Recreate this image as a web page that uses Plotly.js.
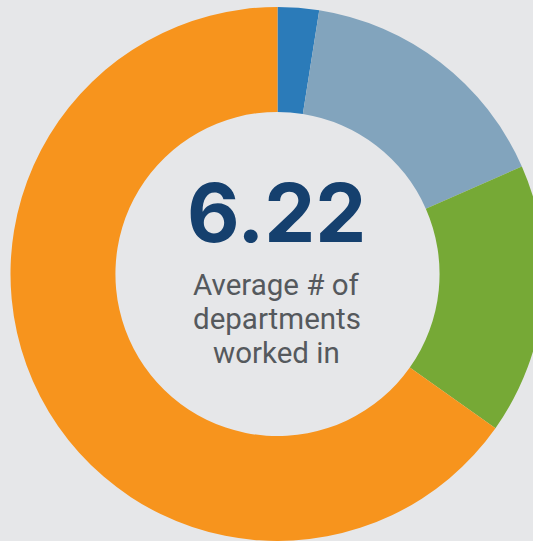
<!DOCTYPE html>
<html>
<head>
<meta charset="utf-8">
<script src="https://cdn.plot.ly/plotly-3.0.1.min.js"></script>
<style>
html,body{margin:0;padding:0;background:#e6e7e9;overflow:hidden;width:533px;height:541px;}
#chart{width:560px;height:541px;}
</style>
</head>
<body>
<div id="chart"></div>
<script>
const categories = ["Category A", "Category B", "Category C", "Category D"];
const shares = [2.5, 15.9, 16.4, 65.2];
const colors = ["#2b7bb9", "#82a4bd", "#76a936", "#f7941d"];
const centerValue = "6.22";
const centerLines = ["Average # of", "departments", "worked in"];

const W = 560, H = 541;
const cx = 277.5, topY = 7, R = 267;
function px(x){ return x / W; }
function py(y){ return 1 - y / H; }

const data = [{
  type: "pie",
  labels: categories,
  values: shares,
  marker: {colors: colors, line: {width: 0}},
  hole: 0.607,
  sort: false,
  direction: "clockwise",
  rotation: 0,
  textinfo: "none",
  hoverinfo: "label+percent",
  showlegend: false,
  domain: {x: [px(cx - R), px(cx + R)], y: [py(topY + 2 * R), py(topY)]}
}];

const annotations = [{
  text: "<b>" + centerValue + "</b>",
  x: px(cx - 1), y: py(213), xref: "paper", yref: "paper",
  xanchor: "center", yanchor: "middle", showarrow: false,
  font: {family: "Inter", size: 81, color: "#15406e"}
}];
const lineY = [285, 319, 353];
centerLines.forEach((t, i) => annotations.push({
  text: t, x: px(cx - 1), y: py(lineY[i]), xref: "paper", yref: "paper",
  xanchor: "center", yanchor: "middle", showarrow: false,
  font: {family: "Roboto", size: 29.5, color: "#55595d"}
}));

const layout = {
  width: W, height: H,
  margin: {l: 0, r: 0, t: 0, b: 0},
  paper_bgcolor: "#e6e7e9",
  plot_bgcolor: "#e6e7e9",
  annotations: annotations
};
Plotly.newPlot("chart", data, layout, {displayModeBar: false, staticPlot: true});
</script>
</body>
</html>
